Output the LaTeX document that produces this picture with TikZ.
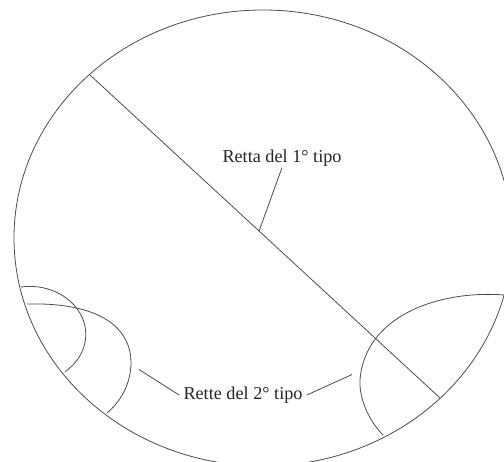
\documentclass[tikz,border=0pt]{standalone}
\usepackage{fontspec}
\setmainfont{Liberation Serif}
\begin{document}
\begin{tikzpicture}[x=1pt, y=-1pt, line width=0.8pt, draw=black!70,
        lbl/.style={font=\fontsize{18.2}{21}\selectfont, text=black!85, inner sep=1pt}]
        \useasboundingbox (0,0) rectangle (504,462);
        \clip (0,0) rectangle (504,462);

        % bordo del piano
        \draw (263,238) ellipse [x radius=249pt, y radius=228pt];

        % retta del 1 tipo
        \coordinate (d1) at (90,75);
        \coordinate (d2) at (440,398);
        \draw (d1) -- (d2) coordinate[pos=0.483] (m1);

        % rette del 2 tipo, a sinistra
        \draw (21,287) arc[start angle=99, end angle=-51, x radius=56pt, y radius=48pt];
        \draw (27,304) .. controls (110,302) and (131,335) .. (131,362)
            .. controls (131,385) and (120,402) .. (107,413);

        % retta del 2 tipo, a destra
        \draw (504,295) .. controls (440,290) and (365,315) .. (360,380)
            .. controls (359,400) and (370,422) .. (383,435);

        % etichette
        \node[lbl] (r1) at (282,158) {Retta del 1° tipo};
        \draw (r1.south) -- (m1);

        \node[lbl, inner xsep=4pt] (r2) at (243,395) {Rette del 2° tipo};
        \coordinate (f1) at (139,369.5);
        \coordinate (f2) at (352,374.5);
        \draw (r2.west) -- (f1);
        \draw (r2.east) -- (f2);
    \end{tikzpicture}
\end{document}
